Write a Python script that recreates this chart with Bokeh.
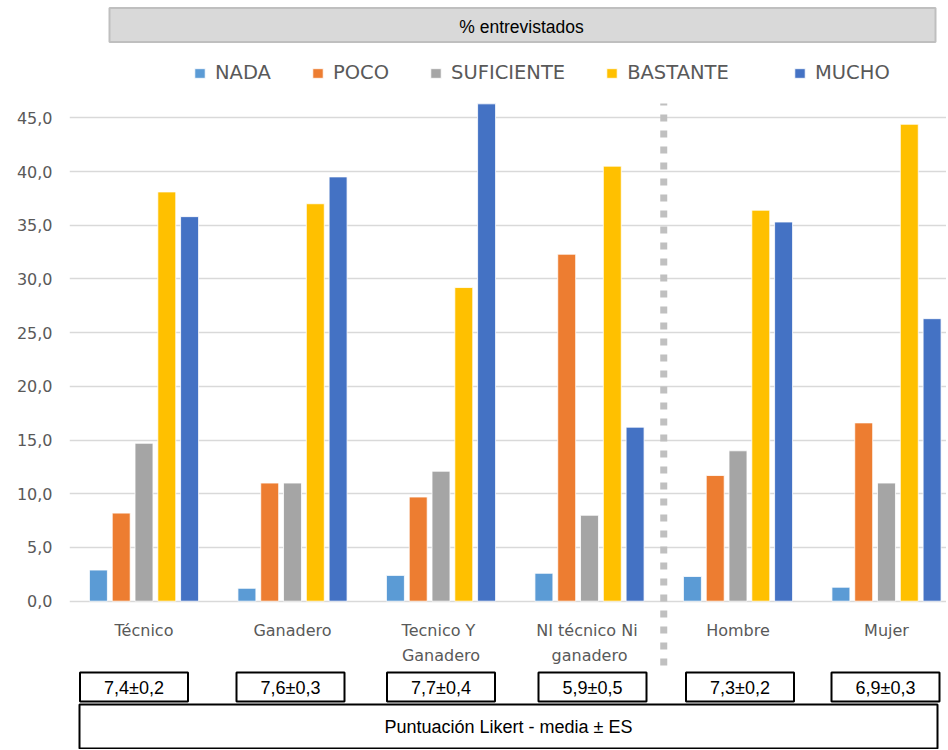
from bokeh.plotting import figure
from bokeh.models import (ColumnDataSource, Range1d, FixedTicker, CustomJSTickFormatter,
                          Legend, LegendItem)
from bokeh.transform import dodge
from bokeh.core.properties import value
from bokeh.embed import file_html
from bokeh.resources import INLINE

# ---------------- data ----------------
categories = ["Técnico", "Ganadero", "Tecnico  Y\nGanadero", "NI  técnico Ni\nganadero", "Hombre", "Mujer"]
series_names = ["NADA", "POCO", "SUFICIENTE", "BASTANTE", "MUCHO"]
nada = [2.9, 1.2, 2.4, 2.6, 2.3, 1.3]
poco = [8.2, 11.0, 9.7, 32.3, 11.7, 16.6]
suficiente = [14.7, 11.0, 12.1, 8.0, 14.0, 11.0]
bastante = [38.1, 37.0, 29.2, 40.5, 36.4, 44.4]
mucho = [35.8, 39.5, 46.3, 16.2, 35.3, 26.3]
likert = ["7,4±0,2", "7,6±0,3", "7,7±0,4", "5,9±0,5", "7,3±0,2", "6,9±0,3"]
y_ticks = [0, 5, 10, 15, 20, 25, 30, 35, 40, 45]
header_text = "% entrevistados"
footer_text = "Puntuación Likert - media ± ES"

colors = ["#5B9BD5", "#ED7D31", "#A5A5A5", "#FFC000", "#4472C4"]

# ---------------- layout helpers (canvas pixel -> data) ----------------
PX_PER_GROUP = 148.5
X0_PX = 69.25
PX_PER_UNIT = 10.742
Y0_PX = 600.7
def px_x(px):
    return (px - X0_PX) / PX_PER_GROUP
def px_y(py):
    return (Y0_PX - py) / PX_PER_UNIT

W, H = 946, 749
LEFT = 69
p = figure(width=W, height=H, output_backend="svg", toolbar_location=None,
           x_range=Range1d(px_x(LEFT), px_x(W)),
           y_range=Range1d(px_y(H), px_y(0)),
           x_axis_location=None, min_border_left=LEFT, min_border_right=0,
           min_border_top=0, min_border_bottom=0)
p.outline_line_color = None
p.background_fill_color = "white"
p.border_fill_color = "white"

# y axis
p.yaxis.ticker = FixedTicker(ticks=y_ticks)
p.yaxis.formatter = CustomJSTickFormatter(code="return tick.toFixed(1).replace('.', ',');")
p.yaxis.axis_line_color = None
p.yaxis.major_tick_line_color = None
p.yaxis.minor_tick_line_color = None
p.yaxis.major_tick_out = 0
p.yaxis.major_label_standoff = 17
p.yaxis.major_label_text_font = "DejaVu Sans"
p.yaxis.major_label_text_font_size = "16px"
p.yaxis.major_label_text_color = "#595959"
p.xgrid.grid_line_color = None
p.ygrid.grid_line_color = "#D9D9D9"
p.ygrid.grid_line_width = 1.3

# ---------------- bars ----------------
xs = [i + 0.5 for i in range(len(categories))]
src = ColumnDataSource(dict(x=xs, NADA=nada, POCO=poco, SUFICIENTE=suficiente,
                            BASTANTE=bastante, MUCHO=mucho))
step = 0.1535
bar_w = 0.121
renderers = []
for k, (name, col) in enumerate(zip(series_names, colors)):
    r = p.vbar(x=dodge("x", (k - 2) * step), top=name, width=bar_w, source=src,
               fill_color=col, line_color="white", line_width=0.8)
    renderers.append(r)

# ---------------- separator ----------------
p.segment(x0=[4], y0=[px_y(665)], x1=[4], y1=[px_y(103)], line_color="#C0C0C0",
          line_width=7, line_dash="7 9", line_cap="butt")

# ---------------- category labels ----------------
p.text(x=xs, y=[px_y(620)] * len(xs), text=categories, text_align="center",
       text_baseline="top", text_font=value("DejaVu Sans"), text_font_size="16px",
       text_color="#595959", text_line_height=1.35)

# ---------------- header ----------------
p.rect(x=[px_x(522)], y=[px_y(24.5)], width=826, height=34, width_units="screen",
       height_units="screen", fill_color="#D9D9D9", line_color="#BFBFBF", line_width=2)
p.text(x=[px_x(521)], y=[px_y(26)], text=[header_text], text_align="center",
       text_baseline="middle", text_font=value("Liberation Sans"),
       text_font_size="17.5px", text_color="black")

# ---------------- likert boxes ----------------
box_shift = [-10, -2, 0, 3, 2, -1]   # small horizontal nudges of the boxes, in pixels
box_x = [x + s / PX_PER_GROUP for x, s in zip(xs, box_shift)]
p.rect(x=box_x, y=[px_y(686.5)] * len(xs), width=108, height=29, width_units="screen",
       height_units="screen", fill_color="white", line_color="black", line_width=2)
p.text(x=box_x, y=[px_y(687)] * len(xs), text=likert, text_align="center",
       text_baseline="middle", text_font=value("Liberation Sans"),
       text_font_size="18px", text_color="black")
p.rect(x=[px_x(508)], y=[px_y(726)], width=858, height=44, width_units="screen",
       height_units="screen", fill_color="white", line_color="black", line_width=2)
p.text(x=[px_x(508)], y=[px_y(726)], text=[footer_text], text_align="center",
       text_baseline="middle", text_font=value("Liberation Sans"),
       text_font_size="18px", text_color="black")

# ---------------- legend ----------------
legend_kw = dict(orientation="horizontal", glyph_width=13, glyph_height=12,
                 label_standoff=9, spacing=40, padding=0, margin=0,
                 border_line_color=None, background_fill_alpha=0,
                 label_text_font="DejaVu Sans", label_text_font_size="19.5px",
                 label_text_color="#595959")
leg_y = H - 84
legend1 = Legend(items=[LegendItem(label=n, renderers=[r])
                        for n, r in zip(series_names[:4], renderers[:4])],
                 location=(193 - LEFT, leg_y), **legend_kw)
legend2 = Legend(items=[LegendItem(label=series_names[4], renderers=[renderers[4]])],
                 location=(793 - LEFT, leg_y), **legend_kw)
p.add_layout(legend1)
p.add_layout(legend2)

open("out.html", "w").write(file_html(p, INLINE))
